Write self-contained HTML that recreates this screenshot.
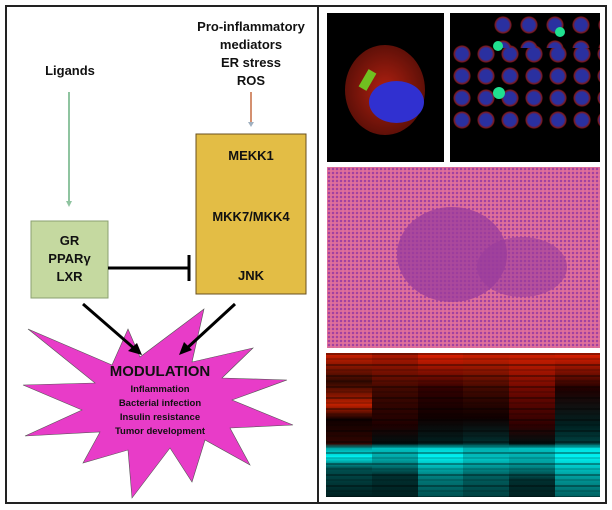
<!DOCTYPE html>
<html><head><style>
body{margin:0;background:#fff;width:612px;height:510px;overflow:hidden;position:relative;font-family:"Liberation Sans",sans-serif}
.t{position:absolute;font-weight:bold;color:#111;text-align:center}
.col{position:absolute;top:353px;height:144px;width:46px}
.col::after{content:"";position:absolute;inset:0;background:repeating-linear-gradient(rgba(0,0,0,.35) 0 2px,transparent 2px 5px,rgba(0,0,0,.15) 5px 7px,transparent 7px 11px)}
</style></head><body>
<div style="position:absolute;left:5px;top:5px;width:598px;height:495px;border:2px solid #222"></div>
<div style="position:absolute;left:317px;top:5px;width:2px;height:497px;background:#222"></div>

<svg width="612" height="510" style="position:absolute;left:0;top:0">
<line x1="69" y1="92" x2="69" y2="203" stroke="#8fc4a0" stroke-width="2"/>
<polygon points="66,201 72,201 69,207" fill="#8fc4a0"/>
<line x1="251" y1="92" x2="251" y2="124" stroke="#d49070" stroke-width="2"/>
<polygon points="248,122 254,122 251,127" fill="#a0b0c0"/>
<rect x="31" y="221" width="77" height="77" fill="#c5d9a0" stroke="#8aa070" stroke-width="1"/>
<rect x="196" y="134" width="110" height="160" fill="#e3bd45" stroke="#6a5020" stroke-width="1"/>
<line x1="108" y1="268" x2="189" y2="268" stroke="#000" stroke-width="3"/>
<line x1="189" y1="255" x2="189" y2="281" stroke="#000" stroke-width="3"/>
<polygon fill="#e83cc8" stroke="#555" stroke-width="0.6" points="28,329 112,365 128,329 140,357 204,309 192,362 253,348 222,378 287,380 232,400 293,425 230,428 250,465 205,440 192,482 170,448 132,498 128,450 83,463 100,432 25,436 82,410 23,385 95,383"/>
<line x1="83" y1="304" x2="136" y2="350" stroke="#000" stroke-width="3"/>
<polygon points="142,355 128,351 137,343" fill="#000"/>
<line x1="235" y1="304" x2="185" y2="350" stroke="#000" stroke-width="3"/>
<polygon points="179,355 184,342 192,350" fill="#000"/>
</svg>

<div class="t" style="left:20px;top:63px;width:100px;font-size:13px">Ligands</div>
<div class="t" style="left:186px;top:18px;width:130px;font-size:13px;line-height:18px">Pro-inflammatory<br>mediators<br>ER stress<br>ROS</div>
<div class="t" style="left:31px;top:232px;width:77px;font-size:13px;line-height:18px">GR<br>PPARγ<br>LXR</div>
<div class="t" style="left:196px;top:148px;width:110px;font-size:13px">MEKK1</div>
<div class="t" style="left:196px;top:209px;width:110px;font-size:13px">MKK7/MKK4</div>
<div class="t" style="left:196px;top:268px;width:110px;font-size:13px">JNK</div>
<div class="t" style="left:90px;top:363px;width:140px;font-size:15px">MODULATION</div>
<div class="t" style="left:90px;top:383px;width:140px;font-size:9.5px;line-height:14px">Inflammation<br>Bacterial infection<br>Insulin resistance<br>Tumor development</div>

<div style="position:absolute;left:327px;top:13px;width:117px;height:149px;background:#000;overflow:hidden">
<div style="position:absolute;left:18px;top:32px;width:80px;height:90px;border-radius:50%;background:radial-gradient(#b02010,#601008 70%,#000 100%)"></div>
<div style="position:absolute;left:36px;top:57px;width:9px;height:20px;background:#70c020;transform:rotate(30deg)"></div>
<div style="position:absolute;left:42px;top:68px;width:55px;height:42px;border-radius:50%;background:#3030d0"></div>
</div>
<div style="position:absolute;left:450px;top:13px;width:150px;height:149px;background:#000;overflow:hidden">
<div style="position:absolute;left:0;top:30px;width:150px;height:90px;background:radial-gradient(circle,#2a30a0 6px,#801818 8px,transparent 9px) 0 0/24px 22px"></div>
<div style="position:absolute;left:40px;top:0;width:110px;height:35px;background:radial-gradient(circle,#2a30a0 6px,#801818 8px,transparent 9px) 0 0/26px 24px"></div>
<div style="position:absolute;left:43px;top:74px;width:12px;height:12px;border-radius:50%;background:#20e090"></div>
<div style="position:absolute;left:105px;top:14px;width:10px;height:10px;border-radius:50%;background:#20e090"></div>
<div style="position:absolute;left:43px;top:28px;width:10px;height:10px;border-radius:50%;background:#20e090"></div>
</div>
<div style="position:absolute;left:327px;top:167px;width:273px;height:181px;background:#e0709a;overflow:hidden">
<div style="position:absolute;inset:0;background:radial-gradient(circle,#a040a0 1px,transparent 1.5px) 0 0/4px 4px"></div>
<div style="position:absolute;left:70px;top:40px;width:110px;height:95px;border-radius:50%;background:#9a3c9c;opacity:.75"></div>
<div style="position:absolute;left:150px;top:70px;width:90px;height:60px;border-radius:50%;background:#9a3c9c;opacity:.6"></div>
</div>
<div class="col" style="left:326px;background:linear-gradient(#d02000,#300800 20%,#c02000 36%,#100000 46%,#300500 63%,#00a0a0 66%,#00f0f0 72%,#005050 80%,#002020)"></div>
<div class="col" style="left:372px;background:linear-gradient(#b01800,#400800 25%,#200000 50%,#001010 63%,#00c0c0 66%,#00a0a0 74%,#003030 85%,#002020)"></div>
<div class="col" style="left:418px;background:linear-gradient(#e02000,#300000 25%,#100000 45%,#002020 63%,#00d0d0 66%,#00f0f0 72%,#008080 85%,#005050)"></div>
<div class="col" style="left:463px;background:linear-gradient(#d02000,#400800 25%,#100000 45%,#003030 63%,#00b0b0 66%,#00c0c0 74%,#006060 85%,#004040)"></div>
<div class="col" style="left:509px;background:linear-gradient(#d02000,#700800 25%,#300000 50%,#001010 63%,#00c0c0 66%,#00a0a0 76%,#003030 88%,#002020)"></div>
<div class="col" style="left:555px;width:45px;background:linear-gradient(#e02000,#200000 25%,#002020 50%,#004040 63%,#00e0e0 66%,#00f0f0 72%,#00a0a0 85%,#006060)"></div>
</body></html>
